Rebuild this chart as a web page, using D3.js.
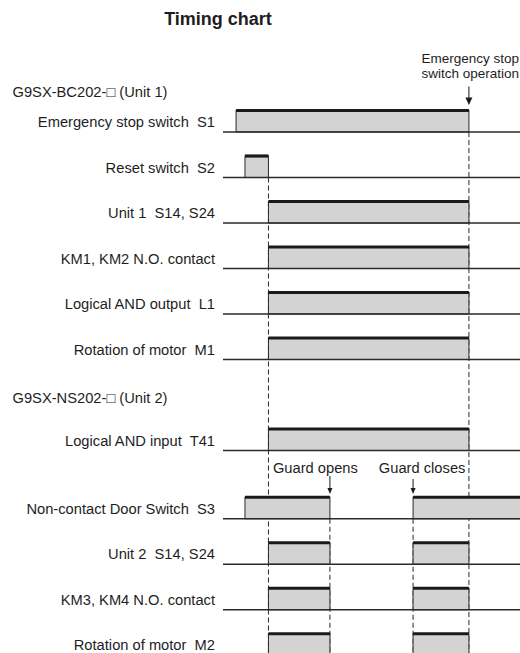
<!DOCTYPE html>
<html>
<head>
<meta charset="utf-8">
<script src="https://cdn.jsdelivr.net/npm/d3@7"></script>
<style>
  html, body { margin: 0; padding: 0; background: #fff; }
  svg { display: block; }
  text { font-family: "Liberation Sans", Arial, Helvetica, sans-serif; fill: #1e1e1e; white-space: pre; }
</style>
</head>
<body>
<script>
// ---------- data ----------
const title = "Timing chart";
const groupLabels = ["G9SX-BC202-\u25A1 (Unit 1)", "G9SX-NS202-\u25A1 (Unit 2)"];
const groupSlots = [-0.78, 5.96];

const rowLabels = [
  "Emergency stop switch  S1",
  "Reset switch  S2",
  "Unit 1  S14, S24",
  "KM1, KM2 N.O. contact",
  "Logical AND output  L1",
  "Rotation of motor  M1",
  "Logical AND input  T41",
  "Non-contact Door Switch  S3",
  "Unit 2  S14, S24",
  "KM3, KM4 N.O. contact",
  "Rotation of motor  M2"
];
const rowSlots = [0, 1, 2, 3, 4, 5, 7, 8.5, 9.5, 10.5, 11.5];
// ON intervals (time units 0..100)
const rowPulses = [
  [[4.4, 82.8]],
  [[7.4, 15.3]],
  [[15.3, 82.8]],
  [[15.3, 82.8]],
  [[15.3, 82.8]],
  [[15.3, 82.8]],
  [[15.3, 82.8]],
  [[7.4, 36], [64, 101]],
  [[15.3, 36], [64, 82.8]],
  [[15.3, 36], [64, 82.8]],
  [[15.3, 36], [64, 82.8]]
];
// dashed timing guides: time, starting slot
const guideTimes = [15.3, 82.8, 36, 64];
const guideFromSlots = [1, 0, 8.5, 8.5];

// annotations
const estopLines = ["Emergency stop", "switch operation"];
const estopTime = 82.8;
const guardLabels = ["Guard opens", "Guard closes"];
const guardTimes = [36, 64];

// ---------- layout ----------
const W = 520, H = 653;
const svg = d3.select("body").append("svg").attr("width", W).attr("height", H);

const x = d3.scaleLinear().domain([0, 100]).range([223, 520]);
const y = d3.scaleLinear().domain([0, 1]).range([132, 177.5]); // baseline per slot
const pulseH = 21.5;
const fs = 14.7;

// title
svg.append("text").attr("x", 218).attr("y", 25).attr("text-anchor", "middle")
  .style("font-size", "18px").style("font-weight", "bold").text(title);

// group labels
svg.selectAll("text.group").data(groupLabels).join("text").attr("class", "group")
  .attr("x", 12.5).attr("y", (d, i) => y(groupSlots[i]))
  .style("font-size", fs + "px").text(d => d);

// guides (dashed)
const bottom = y(11.5) + 5;
svg.selectAll("line.guide").data(guideTimes).join("line").attr("class", "guide")
  .attr("x1", d => x(d)).attr("x2", d => x(d))
  .attr("y1", (d, i) => y(guideFromSlots[i])).attr("y2", bottom)
  .attr("stroke", "#2a2a2a").attr("stroke-width", 1).attr("stroke-dasharray", "5,3");

// rows
const rows = svg.selectAll("g.row").data(rowLabels).join("g").attr("class", "row")
  .attr("transform", (d, i) => `translate(0,${y(rowSlots[i])})`);

rows.append("text").attr("x", 215).attr("y", -5).attr("text-anchor", "end")
  .style("font-size", fs + "px").text(d => d);

rows.each(function (d, i) {
  const g = d3.select(this);
  const pulses = rowPulses[i];
  g.selectAll("rect").data(pulses).join("rect")
    .attr("x", p => x(p[0])).attr("y", -pulseH)
    .attr("width", p => x(p[1]) - x(p[0])).attr("height", pulseH)
    .attr("fill", "#d3d3d3").attr("stroke", "#2a2a2a").attr("stroke-width", 1);
  g.selectAll("line.top").data(pulses).join("line").attr("class", "top")
    .attr("x1", p => x(p[0])).attr("x2", p => x(p[1]))
    .attr("y1", -pulseH).attr("y2", -pulseH)
    .attr("stroke", "#1a1a1a").attr("stroke-width", 3.2);
});

rows.append("line").attr("x1", x(0)).attr("x2", x(100)).attr("y1", 0).attr("y2", 0)
  .attr("stroke", "#2a2a2a").attr("stroke-width", 1.6);

// arrow helper
function arrow(xp, y0, y1, hw, hh) {
  svg.append("line").attr("x1", xp).attr("x2", xp).attr("y1", y0).attr("y2", y1 - hh + 1)
    .attr("stroke", "#1a1a1a").attr("stroke-width", 1);
  svg.append("path").attr("d", `M${xp - hw},${y1 - hh}L${xp + hw},${y1 - hh}L${xp},${y1}Z`)
    .attr("fill", "#1a1a1a");
}

// emergency stop annotation
svg.selectAll("text.estop").data(estopLines).join("text").attr("class", "estop")
  .attr("x", 519).attr("y", (d, i) => 62.5 + i * 15.6).attr("text-anchor", "end")
  .style("font-size", "13.5px").text(d => d);
arrow(x(estopTime), 86.5, 105, 3.5, 7.5);

// guard annotations
svg.append("text").attr("x", x(15.3) + 4.5).attr("y", 473)
  .style("font-size", fs + "px").text(guardLabels[0]);
svg.append("text").attr("x", x(82.8) - 3.5).attr("y", 473).attr("text-anchor", "end")
  .style("font-size", fs + "px").text(guardLabels[1]);
arrow(x(guardTimes[0]), 476, 494, 2.5, 6);
arrow(x(guardTimes[1]), 479, 494, 2.5, 6);
</script>
</body>
</html>
